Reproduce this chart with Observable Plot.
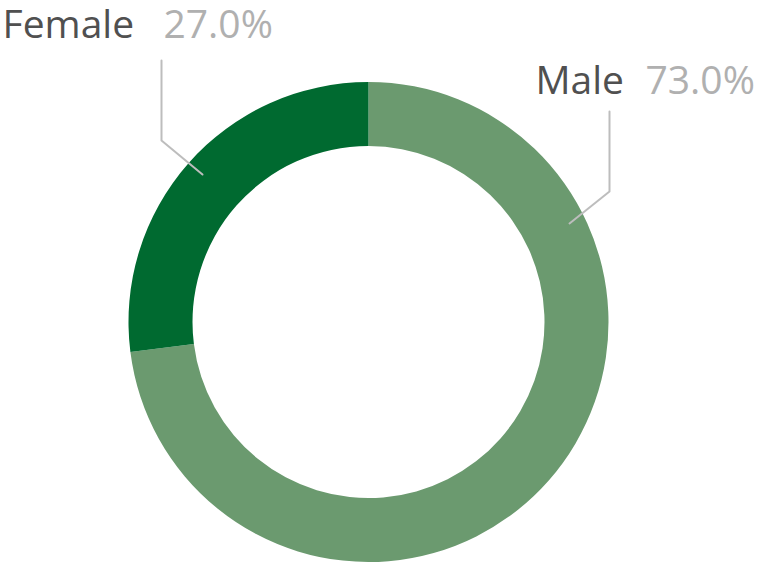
<!DOCTYPE html>
<html>
<head>
<meta charset="utf-8">
<script src="https://cdn.jsdelivr.net/npm/d3@7"></script>
<script src="https://cdn.jsdelivr.net/npm/@observablehq/plot@0.6"></script>
<style>
  html, body { margin: 0; padding: 0; background: #fff; }
  #chart svg { display: block; }
</style>
</head>
<body>
<div id="chart"></div>
<script>
// Data
const categories = ["Male", "Female"];
const shares = [73.0, 27.0];
const colors = ["#6b9a6f", "#006a30"];

const W = 758, H = 563;
const cx = 368.5, cy = 322, rOuter = 240, rInner = 176;

const slices = d3.pie().sort(null).value(d => d.value)(
  categories.map((c, i) => ({category: c, value: shares[i], color: colors[i]}))
);

// label layout (pixel space)
const labelLayout = {
  Male:   {tx: 535, px: 645, ty: 93, vx: 609, vTop: 111, vBot: 191, ex: 569, ey: 223},
  Female: {tx: 2,   px: 163, ty: 37, vx: 161, vTop: 60,  vBot: 140, ex: 202, ey: 174}
};

const leader = [];
slices.forEach(s => {
  const L = labelLayout[s.data.category];
  leader.push({k: s.data.category, x: L.vx, y: L.vTop});
  leader.push({k: s.data.category, x: L.vx, y: L.vBot});
  leader.push({k: s.data.category, x: L.ex, y: L.ey});
});

const labels = slices.map(s => {
  const L = labelLayout[s.data.category];
  return {
    x: L.tx, px: L.px, y: L.ty,
    name: s.data.category,
    pct: d3.format(".1f")(s.data.value) + "%"
  };
});

function donutMark() {
  return (index, scales) => {
    const g = d3.create("svg:g");
    const arc = d3.arc().innerRadius(rInner).outerRadius(rOuter);
    const X = scales.x(cx), Y = scales.y(cy);
    g.selectAll("path").data(slices).join("path")
      .attr("transform", `translate(${X},${Y})`)
      .attr("d", arc)
      .attr("fill", d => d.data.color);
    return g.node();
  };
}

const font = "'Open Sans', 'Segoe UI', sans-serif";
const fs = 39;

const chart = Plot.plot({
  width: W,
  height: H,
  margin: 0,
  x: {domain: [0, W], range: [0, W], axis: null},
  y: {domain: [0, H], range: [0, H], axis: null},
  style: {fontFamily: font, background: "#fff"},
  marks: [
    donutMark(),
    Plot.line(leader, {x: "x", y: "y", z: "k", stroke: "#bdbdbd", strokeWidth: 2}),
    Plot.text(labels, {x: "x", y: "y", text: "name", textAnchor: "start", lineAnchor: "bottom", fontSize: fs, fill: "#505050"}),
    Plot.text(labels, {x: "px", y: "y", text: "pct", textAnchor: "start", lineAnchor: "bottom", fontSize: fs, fill: "#b0b0b0"})
  ]
});
document.getElementById("chart").appendChild(chart);
</script>
</body>
</html>
